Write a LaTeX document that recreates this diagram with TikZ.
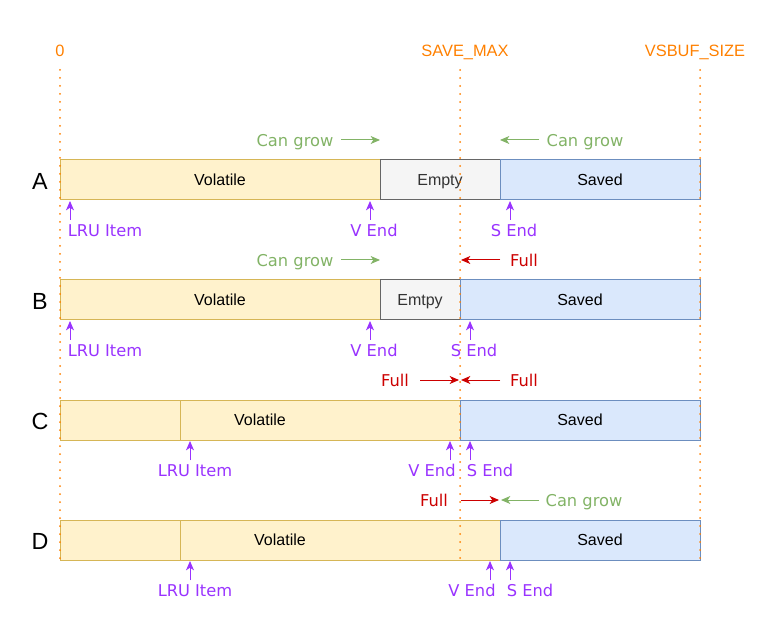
\documentclass[tikz,border=0pt]{standalone}
\usepackage{fontspec}
\setmainfont{Liberation Sans}
\newfontfamily\verd{DejaVu Sans}
\usetikzlibrary{arrows.meta}
\definecolor{orng}{HTML}{FF8000}
\definecolor{grn}{HTML}{82B366}
\definecolor{rd}{HTML}{CC0000}
\definecolor{prp}{HTML}{9933FF}
\definecolor{yfill}{HTML}{FFF2CC}
\definecolor{ydraw}{HTML}{D6B656}
\definecolor{gfill}{HTML}{F5F5F5}
\definecolor{gdraw}{HTML}{666666}
\definecolor{bfill}{HTML}{DAE8FC}
\definecolor{bdraw}{HTML}{6C8EBF}
\definecolor{txtgray}{HTML}{333333}
\tikzset{
  seg/.style={draw, anchor=north west, inner sep=0pt, outer sep=0pt, minimum height=30pt, line width=0.75pt, text height=8.8pt, text depth=0pt, font=\fontsize{12pt}{14pt}\selectfont},
  vol/.style={seg, fill=yfill, draw=ydraw},
  emp/.style={seg, fill=gfill, draw=gdraw, text=txtgray},
  sav/.style={seg, fill=bfill, draw=bdraw},
  rowlab/.style={font=\fontsize{17.5pt}{20pt}\selectfont, inner sep=0pt},
  toplab/.style={text=orng, font=\fontsize{12.3pt}{14pt}\selectfont, inner sep=0pt, text height=8.8pt, text depth=0pt},
  marker/.style={draw=orng, line width=1.5pt, line cap=round, dash pattern=on 0pt off 6pt},
  tip/.style={-{Stealth[length=7pt,width=6pt,inset=2pt]}, line width=0.75pt},
  parrow/.style={tip, draw=prp, fill=prp},
  garrow/.style={tip, draw=grn, fill=grn},
  rarrow/.style={tip, draw=rd, fill=rd},
  lab/.style={font=\verd\fontsize{12.2pt}{14pt}\selectfont, inner sep=0pt, text height=8.9pt, text depth=0pt},
  plab/.style={lab, text=prp},
  glab/.style={lab, text=grn},
  rlab/.style={lab, text=rd},
}
\begin{document}
\begin{tikzpicture}[x=0.75pt, y=-0.75pt]
\useasboundingbox (0,0) rectangle (781,641);

% top labels
\node[toplab] (l0) at (60,51) {0};
\node[toplab] (lsm) at (465,51) {SAVE\_MAX};
\node[toplab] (lvs) at (695,51) {VSBUF\_SIZE};

% row labels
\node[rowlab] (ra) at (40,181) {A};
\node[rowlab] (rb) at (40,301) {B};
\node[rowlab] (rc) at (40,421) {C};
\node[rowlab] (rd) at (40,541) {D};

% Row A
\node[vol, minimum width=240pt] (av) at (60,160) {Volatile};
\node[emp, minimum width=90pt] (ae) at (380,160) {Empty};
\node[sav, minimum width=150pt] (as) at (500,160) {Saved};
% Row B
\node[vol, minimum width=240pt] (bv) at (60,280) {Volatile};
\node[emp, minimum width=60pt] (be) at (380,280) {Emtpy};
\node[sav, minimum width=180pt] (bs) at (460,280) {Saved};
% Row C
\node[vol, minimum width=300pt] (cv) at (60,400) {Volatile};
\node[vol, minimum width=90pt] (cx) at (60,400) {};
\node[sav, minimum width=180pt] (cs) at (460,400) {Saved};
% Row D
\node[vol, minimum width=330pt] (dv) at (60,520) {Volatile};
\node[vol, minimum width=90pt] (dx) at (60,520) {};
\node[sav, minimum width=150pt] (ds) at (500,520) {Saved};

% dotted markers
\coordinate (m0a) at (60,70);  \coordinate (m0b) at (60,560);
\coordinate (m1a) at (460,70); \coordinate (m1b) at (460,560);
\coordinate (m2a) at (700,70); \coordinate (m2b) at (700,560);
\draw[marker] (m0a) -- (m0b);
\draw[marker] (m1a) -- (m1b);
\draw[marker] (m2a) -- (m2b);

% ---- Row A annotations
\node[glab] (ag1) at (295,141) {Can grow};
\coordinate (ag1s) at (341,140); \coordinate (ag1e) at (380,140);
\draw[garrow] (ag1s) -- (ag1e);
\node[glab] (ag2) at (585,141) {Can grow};
\coordinate (ag2s) at (539,140); \coordinate (ag2e) at (500,140);
\draw[garrow] (ag2s) -- (ag2e);
\node[plab] (ap1) at (105,231) {LRU Item};
\coordinate (ap1s) at (70,220); \coordinate (ap1e) at (70,201);
\draw[parrow] (ap1s) -- (ap1e);
\node[plab] (ap2) at (374,231) {V End};
\coordinate (ap2s) at (370,220); \coordinate (ap2e) at (370,201);
\draw[parrow] (ap2s) -- (ap2e);
\node[plab] (ap3) at (514,231) {S End};
\coordinate (ap3s) at (510,220); \coordinate (ap3e) at (510,201);
\draw[parrow] (ap3s) -- (ap3e);

% ---- Row B annotations
\node[glab] (bg1) at (295,261) {Can grow};
\coordinate (bg1s) at (341,260); \coordinate (bg1e) at (380,260);
\draw[garrow] (bg1s) -- (bg1e);
\node[rlab] (br1) at (524,261) {Full};
\coordinate (br1s) at (500,260); \coordinate (br1e) at (461,260);
\draw[rarrow] (br1s) -- (br1e);
\node[plab] (bp1) at (105,351) {LRU Item};
\coordinate (bp1s) at (70,340); \coordinate (bp1e) at (70,321);
\draw[parrow] (bp1s) -- (bp1e);
\node[plab] (bp2) at (374,351) {V End};
\coordinate (bp2s) at (370,340); \coordinate (bp2e) at (370,321);
\draw[parrow] (bp2s) -- (bp2e);
\node[plab] (bp3) at (474,351) {S End};
\coordinate (bp3s) at (470,340); \coordinate (bp3e) at (470,321);
\draw[parrow] (bp3s) -- (bp3e);

% ---- Row C annotations
\node[rlab] (cr1) at (395,381) {Full};
\coordinate (cr1s) at (420,380); \coordinate (cr1e) at (459,380);
\draw[rarrow] (cr1s) -- (cr1e);
\node[rlab] (cr2) at (524,381) {Full};
\coordinate (cr2s) at (500,380); \coordinate (cr2e) at (461,380);
\draw[rarrow] (cr2s) -- (cr2e);
\node[plab] (cp1) at (195,471) {LRU Item};
\coordinate (cp1s) at (190,460); \coordinate (cp1e) at (190,441);
\draw[parrow] (cp1s) -- (cp1e);
\node[plab] (cp2) at (432,471) {V End};
\coordinate (cp2s) at (450,460); \coordinate (cp2e) at (450,441);
\draw[parrow] (cp2s) -- (cp2e);
\node[plab] (cp3) at (490,471) {S End};
\coordinate (cp3s) at (470,460); \coordinate (cp3e) at (470,441);
\draw[parrow] (cp3s) -- (cp3e);

% ---- Row D annotations
\node[rlab] (dr1) at (434,501) {Full};
\coordinate (dr1s) at (461,500); \coordinate (dr1e) at (499,500);
\draw[rarrow] (dr1s) -- (dr1e);
\node[glab] (dg1) at (584,501) {Can grow};
\coordinate (dg1s) at (539,500); \coordinate (dg1e) at (501,500);
\draw[garrow] (dg1s) -- (dg1e);
\node[plab] (dp1) at (195,591) {LRU Item};
\coordinate (dp1s) at (190,580); \coordinate (dp1e) at (190,561);
\draw[parrow] (dp1s) -- (dp1e);
\node[plab] (dp2) at (472,591) {V End};
\coordinate (dp2s) at (490,580); \coordinate (dp2e) at (490,561);
\draw[parrow] (dp2s) -- (dp2e);
\node[plab] (dp3) at (530,591) {S End};
\coordinate (dp3s) at (510,580); \coordinate (dp3e) at (510,561);
\draw[parrow] (dp3s) -- (dp3e);
\end{tikzpicture}
\end{document}
